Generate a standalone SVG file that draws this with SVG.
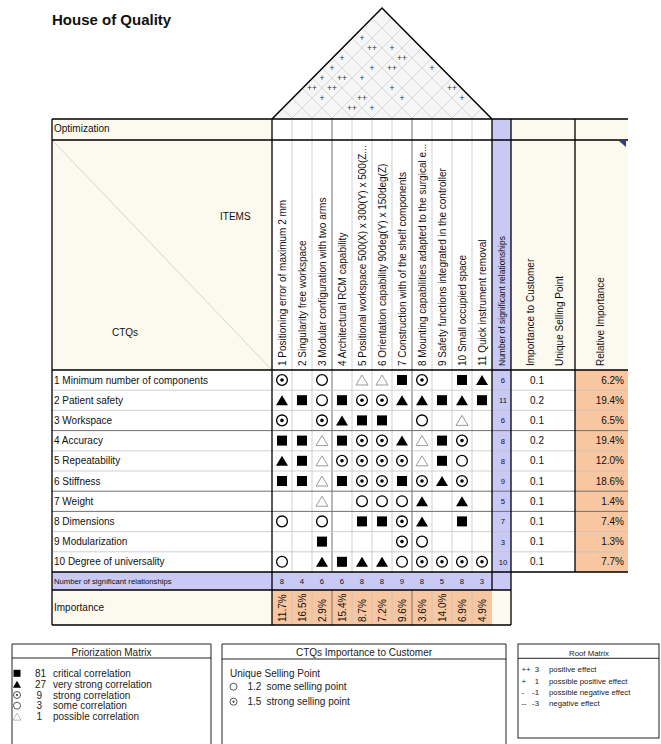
<svg xmlns="http://www.w3.org/2000/svg" width="661" height="744" viewBox="0 0 661 744">
<style>
text{font-family:"Liberation Sans",Arial,Helvetica,sans-serif;fill:#111}
.title{font-size:15px;font-weight:bold}
.t10{font-size:10px}
.t8{font-size:7.7px}
.tv{font-size:8.5px}
.rf{font-size:8.5px;fill:#333;text-anchor:middle}
.mid{text-anchor:middle}
.end{text-anchor:end}
.lg{font-size:10px;fill:#222}
.lg3{font-size:7.8px;fill:#222}
.thick{stroke:#000;stroke-width:1.3;fill:none}
.lite{stroke:#c4c4c4;stroke-width:0.8;fill:none}
.dark{stroke:#707070;stroke-width:1;fill:none}
.roofgrid{stroke:#cfcfcf;stroke-width:0.8;fill:none}
</style>
<defs>
<rect id="S" x="-5" y="-5" width="10" height="10" fill="#000"/>
<polygon id="T" points="0,-5 6,5 -6,5" fill="#000"/>
<circle id="C" r="5.4" fill="none" stroke="#000" stroke-width="1.3"/>
<g id="D"><circle r="5.4" fill="none" stroke="#000" stroke-width="1.3"/><circle r="1.8" fill="#000"/></g>
<polygon id="G" points="0,-5 6,5 -6,5" fill="none" stroke="#9a9a9a" stroke-width="1"/>
<rect id="s2" x="-3.5" y="-3.5" width="7" height="7" fill="#000"/>
<polygon id="t2" points="0,-3.6 4,3.4 -4,3.4" fill="#000"/>
<circle id="c2" r="3.5" fill="none" stroke="#444" stroke-width="0.9"/>
<g id="d2"><circle r="3.5" fill="none" stroke="#444" stroke-width="0.9"/><circle r="1.1" fill="#444"/></g>
<polygon id="g2" points="0,-3.6 4,3.4 -4,3.4" fill="none" stroke="#aaa" stroke-width="0.8"/>
</defs>

<text id="title" class="title" x="52" y="25">House of Quality</text>

<g id="roof">
<polygon points="272,118 382,8 492,118" fill="#f6f6f6"/>
<g class="roofgrid">
<path d="M292,118L392,18M312,118L402,28M332,118L412,38M352,118L422,48M372,118L432,58M392,118L442,68M412,118L452,78M432,118L462,88M452,118L472,98M472,118L482,108"/>
<path d="M292,118L282,108M312,118L292,98M332,118L302,88M352,118L312,78M372,118L322,68M392,118L332,58M412,118L342,48M432,118L352,38M452,118L362,28M472,118L372,18"/>
</g>
<polyline points="272,119 382,8 492,119" fill="none" stroke="#000" stroke-width="1.5"/>
<g>
<text class="rf" x="362" y="41">+</text>
<text class="rf" x="372" y="51">++</text>
<text class="rf" x="392" y="51">+</text>
<text class="rf" x="342" y="61">+</text>
<text class="rf" x="402" y="61">++</text>
<text class="rf" x="332" y="71">+</text>
<text class="rf" x="372" y="71">+</text>
<text class="rf" x="392" y="71">++</text>
<text class="rf" x="432" y="71">+</text>
<text class="rf" x="322" y="81">+</text>
<text class="rf" x="342" y="81">++</text>
<text class="rf" x="362" y="81">+</text>
<text class="rf" x="312" y="91">++</text>
<text class="rf" x="332" y="91">++</text>
<text class="rf" x="392" y="91">+</text>
<text class="rf" x="452" y="91">++</text>
<text class="rf" x="322" y="101">+</text>
<text class="rf" x="362" y="101">++</text>
<text class="rf" x="402" y="101">+</text>
<text class="rf" x="462" y="101">+</text>
<text class="rf" x="352" y="111">++</text>
<text class="rf" x="372" y="111">+</text>
</g>
</g>

<g id="backgrounds">
<rect x="52" y="119" width="220" height="251" fill="#fcf9ee"/>
<rect x="272" y="119" width="220" height="251" fill="#fff"/>
<rect x="492" y="119" width="19" height="471" fill="#c9c9f5"/>
<rect x="511" y="119" width="117" height="251" fill="#fcf9ee"/>
<rect x="52" y="370" width="440" height="202" fill="#fff"/>
<rect x="511" y="370" width="64" height="202" fill="#fff"/>
<rect x="575" y="370" width="53" height="202" fill="#f8c6a0"/>
<rect x="52" y="572" width="440" height="18" fill="#c9c9f5"/>
<rect x="52" y="590" width="220" height="35" fill="#fcf9ee"/>
<rect x="272" y="590" width="220" height="35" fill="#f8c6a0"/>
<rect x="492" y="590" width="19" height="35" fill="#fcf9ee"/>
</g>

<g id="grid">
<path class="lite" d="M292,119V572M312,119V572M352,119V572M372,119V572M392,119V572M432,119V572M452,119V572M472,119V572M292,590V625M312,590V625M352,590V625M372,590V625M392,590V625M432,590V625M452,590V625M472,590V625"/>
<path class="dark" d="M332,119V572M412,119V572M332,590V625M412,590V625"/>
<path class="lite" d="M52,390.2H628M52,410.4H628M52,450.8H628M52,471H628M52,531.6H628M52,551.8H628"/>
<path class="dark" d="M52,430.6H628M52,491.2H628M52,511.4H628"/>
<line x1="53" y1="141" x2="271" y2="369" stroke="#cfcbbf" stroke-width="0.8"/>
<path class="thick" d="M52,119H628M52,140H628M52,370H628M52,572H628M52,590H511M52,625H511M52,119V625M272,119V625M492,119V590M511,119V625M575,119V572"/>
<polygon points="619,141 626,141 626,147" fill="#2a3a9a"/>
</g>

<g id="header-left">
<text class="t10" x="54" y="132">Optimization</text>
<text class="t10" x="220" y="220">ITEMS</text>
<text class="t10" x="112" y="336">CTQs</text>
</g>

<g id="header-items">
<text class="t10" transform="translate(286,366) rotate(-90)">1 Positioning error of maximum 2 mm</text>
<text class="t10" transform="translate(306,366) rotate(-90)">2 Singularity free workspace</text>
<text class="t10" transform="translate(326,366) rotate(-90)">3 Modular configuration with two arms</text>
<text class="t10" transform="translate(346,366) rotate(-90)">4 Architectural RCM capability</text>
<text class="t10" transform="translate(366,366) rotate(-90)">5 Positional workspace 500(X) x 300(Y) x 500(Z...</text>
<text class="t10" transform="translate(386,366) rotate(-90)">6 Orientation capability 90deg(Y) x 150deg(Z)</text>
<text class="t10" transform="translate(406,366) rotate(-90)">7 Construction with of the shelf components</text>
<text class="t10" transform="translate(426,366) rotate(-90)">8 Mounting capabilities adapted to the surgical e...</text>
<text class="t10" transform="translate(446,366) rotate(-90)">9 Safety functions integrated in the controller</text>
<text class="t10" transform="translate(466,366) rotate(-90)">10 Small occupied space</text>
<text class="t10" transform="translate(486,366) rotate(-90)">11 Quick instrument removal</text>
<text class="tv" transform="translate(505,366) rotate(-90)">Number of significant relationships</text>
<text class="t10" transform="translate(534,366) rotate(-90)">Importance to Customer</text>
<text class="t10" transform="translate(563,366) rotate(-90)">Unique Selling Point</text>
<text class="t10" transform="translate(604,366) rotate(-90)">Relative Importance</text>
</g>

<g id="ctqs">
<text class="t10" x="54" y="383.5">1 Minimum number of components</text>
<text class="t10" x="54" y="403.7">2 Patient safety</text>
<text class="t10" x="54" y="423.9">3 Workspace</text>
<text class="t10" x="54" y="444.1">4 Accuracy</text>
<text class="t10" x="54" y="464.3">5 Repeatability</text>
<text class="t10" x="54" y="484.5">6 Stiffness</text>
<text class="t10" x="54" y="504.7">7 Weight</text>
<text class="t10" x="54" y="524.9">8 Dimensions</text>
<text class="t10" x="54" y="545.1">9 Modularization</text>
<text class="t10" x="54" y="565.3">10 Degree of universality</text>
<text class="t8" x="54" y="584">Number of significant relationships</text>
<text class="t10" x="54" y="611">Importance</text>
</g>

<g id="matrix">
<use href="#D" x="282" y="380"/><use href="#C" x="322" y="380"/><use href="#G" x="362" y="380"/><use href="#G" x="382" y="380"/><use href="#S" x="402" y="380"/><use href="#D" x="422" y="380"/><use href="#S" x="462" y="380"/><use href="#T" x="482" y="380"/>
<use href="#T" x="282" y="400.2"/><use href="#S" x="302" y="400.2"/><use href="#C" x="322" y="400.2"/><use href="#S" x="342" y="400.2"/><use href="#D" x="362" y="400.2"/><use href="#D" x="382" y="400.2"/><use href="#T" x="402" y="400.2"/><use href="#T" x="422" y="400.2"/><use href="#S" x="442" y="400.2"/><use href="#T" x="462" y="400.2"/><use href="#S" x="482" y="400.2"/>
<use href="#D" x="282" y="420.4"/><use href="#D" x="322" y="420.4"/><use href="#T" x="342" y="420.4"/><use href="#S" x="362" y="420.4"/><use href="#S" x="382" y="420.4"/><use href="#C" x="422" y="420.4"/><use href="#G" x="462" y="420.4"/>
<use href="#S" x="282" y="440.6"/><use href="#S" x="302" y="440.6"/><use href="#G" x="322" y="440.6"/><use href="#S" x="342" y="440.6"/><use href="#D" x="362" y="440.6"/><use href="#D" x="382" y="440.6"/><use href="#T" x="402" y="440.6"/><use href="#G" x="422" y="440.6"/><use href="#S" x="442" y="440.6"/><use href="#D" x="462" y="440.6"/>
<use href="#T" x="282" y="460.8"/><use href="#S" x="302" y="460.8"/><use href="#G" x="322" y="460.8"/><use href="#D" x="342" y="460.8"/><use href="#D" x="362" y="460.8"/><use href="#D" x="382" y="460.8"/><use href="#D" x="402" y="460.8"/><use href="#G" x="422" y="460.8"/><use href="#S" x="442" y="460.8"/><use href="#C" x="462" y="460.8"/>
<use href="#S" x="282" y="481"/><use href="#S" x="302" y="481"/><use href="#G" x="322" y="481"/><use href="#S" x="342" y="481"/><use href="#D" x="362" y="481"/><use href="#D" x="382" y="481"/><use href="#S" x="402" y="481"/><use href="#D" x="422" y="481"/><use href="#T" x="442" y="481"/><use href="#D" x="462" y="481"/>
<use href="#G" x="322" y="501.2"/><use href="#C" x="362" y="501.2"/><use href="#C" x="382" y="501.2"/><use href="#C" x="402" y="501.2"/><use href="#T" x="422" y="501.2"/><use href="#T" x="462" y="501.2"/>
<use href="#C" x="282" y="521.4"/><use href="#C" x="322" y="521.4"/><use href="#S" x="362" y="521.4"/><use href="#S" x="382" y="521.4"/><use href="#D" x="402" y="521.4"/><use href="#T" x="422" y="521.4"/><use href="#S" x="462" y="521.4"/>
<use href="#S" x="322" y="541.6"/><use href="#D" x="402" y="541.6"/><use href="#C" x="422" y="541.6"/>
<use href="#C" x="282" y="561.8"/><use href="#T" x="322" y="561.8"/><use href="#S" x="342" y="561.8"/><use href="#T" x="362" y="561.8"/><use href="#T" x="382" y="561.8"/><use href="#C" x="402" y="561.8"/><use href="#D" x="422" y="561.8"/><use href="#D" x="442" y="561.8"/><use href="#D" x="462" y="561.8"/><use href="#D" x="482" y="561.8"/>
</g>

<g id="counts">
<text class="t8 mid" x="503" y="383">6</text>
<text class="t8 mid" x="503" y="403.2">11</text>
<text class="t8 mid" x="503" y="423.4">6</text>
<text class="t8 mid" x="503" y="443.6">8</text>
<text class="t8 mid" x="503" y="463.8">8</text>
<text class="t8 mid" x="503" y="484">9</text>
<text class="t8 mid" x="503" y="504.2">5</text>
<text class="t8 mid" x="503" y="524.4">7</text>
<text class="t8 mid" x="503" y="544.6">3</text>
<text class="t8 mid" x="503" y="564.8">10</text>
<text class="t8 mid" x="282" y="584">8</text>
<text class="t8 mid" x="302" y="584">4</text>
<text class="t8 mid" x="322" y="584">6</text>
<text class="t8 mid" x="342" y="584">6</text>
<text class="t8 mid" x="362" y="584">8</text>
<text class="t8 mid" x="382" y="584">8</text>
<text class="t8 mid" x="402" y="584">9</text>
<text class="t8 mid" x="422" y="584">8</text>
<text class="t8 mid" x="442" y="584">5</text>
<text class="t8 mid" x="462" y="584">8</text>
<text class="t8 mid" x="482" y="584">3</text>
</g>

<g id="importance">
<text class="t10" transform="translate(285.5,622) rotate(-90)">11.7%</text>
<text class="t10" transform="translate(305.5,622) rotate(-90)">16.5%</text>
<text class="t10" transform="translate(325.5,622) rotate(-90)">2.9%</text>
<text class="t10" transform="translate(345.5,622) rotate(-90)">15.4%</text>
<text class="t10" transform="translate(365.5,622) rotate(-90)">8.7%</text>
<text class="t10" transform="translate(385.5,622) rotate(-90)">7.2%</text>
<text class="t10" transform="translate(405.5,622) rotate(-90)">9.6%</text>
<text class="t10" transform="translate(425.5,622) rotate(-90)">3.6%</text>
<text class="t10" transform="translate(445.5,622) rotate(-90)">14.0%</text>
<text class="t10" transform="translate(465.5,622) rotate(-90)">6.9%</text>
<text class="t10" transform="translate(485.5,622) rotate(-90)">4.9%</text>
</g>

<g id="customer">
<text class="t10 mid" x="537" y="383.5">0.1</text>
<text class="t10 mid" x="537" y="403.7">0.2</text>
<text class="t10 mid" x="537" y="423.9">0.1</text>
<text class="t10 mid" x="537" y="444.1">0.2</text>
<text class="t10 mid" x="537" y="464.3">0.1</text>
<text class="t10 mid" x="537" y="484.5">0.1</text>
<text class="t10 mid" x="537" y="504.7">0.1</text>
<text class="t10 mid" x="537" y="524.9">0.1</text>
<text class="t10 mid" x="537" y="545.1">0.1</text>
<text class="t10 mid" x="537" y="565.3">0.1</text>
<text class="t10 end" x="624" y="383.5">6.2%</text>
<text class="t10 end" x="624" y="403.7">19.4%</text>
<text class="t10 end" x="624" y="423.9">6.5%</text>
<text class="t10 end" x="624" y="444.1">19.4%</text>
<text class="t10 end" x="624" y="464.3">12.0%</text>
<text class="t10 end" x="624" y="484.5">18.6%</text>
<text class="t10 end" x="624" y="504.7">1.4%</text>
<text class="t10 end" x="624" y="524.9">7.4%</text>
<text class="t10 end" x="624" y="545.1">1.3%</text>
<text class="t10 end" x="624" y="565.3">7.7%</text>
</g>

<g id="legend-priorization">
<path d="M12,746V644H211V746M12,658H211" fill="none" stroke="#222" stroke-width="1"/>
<text class="lg mid" x="111.5" y="656">Priorization Matrix</text>
<use href="#s2" x="17" y="673.3"/><text class="lg" x="35" y="677">81</text><text class="lg" x="53" y="677">critical correlation</text>
<use href="#t2" x="17" y="684.3"/><text class="lg" x="35" y="688">27</text><text class="lg" x="53" y="688">very strong correlation</text>
<use href="#d2" x="17" y="695"/><text class="lg" x="36.5" y="698.7">9</text><text class="lg" x="53" y="698.7">strong correlation</text>
<use href="#c2" x="17" y="705.7"/><text class="lg" x="36.5" y="709.4">3</text><text class="lg" x="53" y="709.4">some correlation</text>
<use href="#g2" x="17" y="716.7"/><text class="lg" x="36.5" y="720.4">1</text><text class="lg" x="53" y="720.4">possible correlation</text>
</g>

<g id="legend-ctqs">
<path d="M222,746V644H506V746M222,659H506" fill="none" stroke="#222" stroke-width="1"/>
<text class="lg mid" x="364" y="656">CTQs Importance to Customer</text>
<text class="lg" x="230" y="676.6">Unique Selling Point</text>
<use href="#c2" x="233.5" y="686.7"/><text class="lg" x="247.5" y="690.3">1.2</text><text class="lg" x="266.5" y="690.3">some selling point</text>
<use href="#d2" x="233.5" y="701.7"/><text class="lg" x="247.5" y="705.3">1.5</text><text class="lg" x="266.5" y="705.3">strong selling point</text>
</g>

<g id="legend-roof">
<rect x="518" y="644" width="141" height="94" fill="none" stroke="#222" stroke-width="1"/>
<line x1="518" y1="658.3" x2="659" y2="658.3" stroke="#222" stroke-width="1"/>
<text class="lg3 mid" x="589" y="656">Roof Matrix</text>
<text class="lg3" x="521.5" y="672">++</text><text class="lg3 end" x="539" y="672">3</text><text class="lg3" x="549" y="672">positive effect</text>
<text class="lg3" x="521.5" y="683.5">+</text><text class="lg3 end" x="539" y="683.5">1</text><text class="lg3" x="549" y="683.5">possible positive effect</text>
<text class="lg3" x="521.5" y="695">-</text><text class="lg3 end" x="539" y="695">-1</text><text class="lg3" x="549" y="695">possible negative effect</text>
<text class="lg3" x="521.5" y="706">--</text><text class="lg3 end" x="539" y="706">-3</text><text class="lg3" x="549" y="706">negative effect</text>
</g>
</svg>
